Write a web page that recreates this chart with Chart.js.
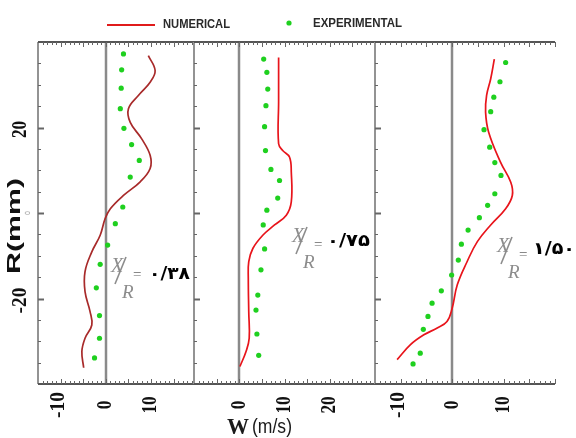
<!DOCTYPE html>
<html>
<head>
<meta charset="utf-8">
<script src="https://cdn.jsdelivr.net/npm/chart.js@4.4.0/dist/chart.umd.min.js"></script>
<style>
  html, body { margin: 0; padding: 0; background: #fff; }
  #wrap { position: relative; width: 576px; height: 438px; overflow: hidden; }
  #wrap canvas { position: absolute; left: 0; top: 0; }
</style>
</head>
<body>
<div id="wrap">
  <canvas id="p1" width="576" height="438"></canvas>
  <canvas id="p2" width="576" height="438"></canvas>
  <canvas id="p3" width="576" height="438"></canvas>
</div>
<script>
// X/R = 0.38
const numR1 = [36.8, 33.3, 30.6, 27.5, 24.4, 21.2, 17.4, 13.5, 10.4, 7.3, 4.1, 1.0, -1.3, -5.2, -9.1, -13.7, -18.4, -23.0, -26.2, -29.3, -32.4, -36.2];
const numW1 = [9.4, 10.9, 9.8, 7.2, 5.0, 5.4, 7.9, 9.8, 9.8, 7.6, 3.9, 1.0, -0.15, -1.25, -3.1, -4.6, -4.6, -3.5, -3.1, -4.6, -5.3, -4.9];
const expR1 = [37.2, 33.5, 29.2, 24.4, 19.8, 16.0, 12.3, 8.4, 1.4, -2.5, -7.5, -12.0, -17.5, -24.0, -29.3, -33.9];
const expW1 = [3.9, 3.5, 3.4, 3.2, 4.0, 5.7, 7.4, 5.4, 3.75, 2.1, 0.4, -1.25, -2.1, -1.4, -1.4, -2.5];

// X/R = 0.75
const numR2 = [36.4, 26.0, 16.2, 14.6, 13.1, 9.6, 2.6, -0.5, -2.8, -5.2, -8.3, -11.4, -15.3, -23.1, -29.3, -32.4, -35.9];
const numW2 = [8.7, 8.7, 8.7, 9.6, 11.1, 11.5, 11.5, 10.4, 7.8, 5.2, 3.0, 2.1, 2.0, 2.1, 2.2, 1.5, 0.15];
const expR2 = [36.0, 32.9, 29.0, 25.1, 20.2, 14.6, 10.2, 7.6, 3.5, 0.65, -2.8, -8.4, -13.3, -19.2, -22.7, -28.3, -33.3];
const expW2 = [5.4, 6.1, 6.3, 5.9, 5.6, 5.8, 7.0, 8.9, 8.5, 6.1, 5.3, 5.6, 4.8, 4.1, 3.7, 3.9, 4.3];

// X/R = 1.50
const numR3 = [36.0, 31.4, 27.5, 23.6, 18.9, 11.9, 7.2, 4.1, 1.0, -2.8, -6.7, -11.4, -16.8, -22.3, -25.4, -26.9, -28.5, -30.8, -34.3];
const numW3 = [8.2, 7.5, 6.7, 6.5, 7.1, 9.4, 11.4, 11.7, 10.4, 7.5, 4.9, 2.9, 1.0, 0, -1.0, -2.9, -5.5, -8.1, -10.7];
const expR3 = [35.2, 30.7, 27.1, 23.7, 19.5, 15.4, 11.8, 8.8, 4.5, 1.8, -1.1, -4.0, -7.3, -11.0, -14.5, -18.2, -21.1, -24.2, -27.2, -32.8, -35.3];
const expW3 = [10.4, 9.3, 8.1, 7.5, 6.2, 7.3, 8.3, 9.5, 8.3, 6.9, 5.3, 3.1, 1.8, 1.2, -0.1, -2.1, -3.9, -4.7, -5.6, -6.2, -7.6];

const xRange1 = [-15, 19.5];
const xRange2 = [-10, 30];
const xRange3 = [-15, 20];
const xLabels1 = [-10, 0, 10];
const xLabels2 = [0, 10, 20];
const xLabels3 = [-10, 0, 10];
const yLabels = [20, -20];
const stationText = ["۰/۳۸", "۰/۷۵", "۱/۵۰"];

function toPoints(rs, ws) {
    return rs.map((r, i) => ({ x: ws[i], y: r }));
}

function line(ctx, x1, y1, x2, y2) {
    ctx.beginPath();
    ctx.moveTo(x1, y1);
    ctx.lineTo(x2, y2);
    ctx.stroke();
}

// text rotated to read bottom-to-top, centred on (cx, cy)
function rotText(ctx, text, cx, cy, font, len) {
    ctx.save();
    ctx.font = font;
    const w = ctx.measureText(text).width;
    ctx.translate(cx, cy);
    ctx.rotate(-Math.PI / 2);
    ctx.scale(len / w, 1);
    ctx.textAlign = "center";
    ctx.textBaseline = "middle";
    ctx.fillText(text, 0, 0);
    ctx.restore();
}

// horizontal text squeezed to a given width, left edge at x
function fitText(ctx, text, x, y, font, len) {
    ctx.save();
    ctx.font = font;
    const w = ctx.measureText(text).width;
    ctx.translate(x, y);
    ctx.scale(len / w, 1);
    ctx.textAlign = "left";
    ctx.textBaseline = "middle";
    ctx.fillText(text, 0, 0);
    ctx.restore();
}

function drawStation(ctx, s) {
    ctx.save();
    ctx.fillStyle = "#8c8c8c";
    ctx.strokeStyle = "#8c8c8c";
    ctx.textAlign = "left";
    ctx.textBaseline = "alphabetic";
    ctx.font = 'italic 20px "Liberation Serif"';
    ctx.fillText("X", s.x - 1, s.y + 14);
    ctx.lineWidth = 1.6;
    line(ctx, s.x + 3, s.y + 26, s.x + 14, s.y - 1);
    ctx.font = 'italic 19px "Liberation Serif"';
    ctx.fillText("R", s.x + 10, s.y + 40);
    ctx.fillStyle = "#666";
    ctx.textBaseline = "middle";
    ctx.font = '15px "Liberation Serif"';
    ctx.fillText("=", s.x + 21, s.y + 17);
    ctx.fillStyle = "#000";
    fitText(ctx, s.text, s.x + s.dx, s.y + s.dy, 'bold 17px "DejaVu Sans"', s.w);
    ctx.restore();
}

const panelFrame = {
    id: "panelFrame",
    beforeDatasetsDraw(chart, args, opts) {
        const { ctx, chartArea: a, scales: { x } } = chart;
        const x0 = Math.round(x.getPixelForValue(0));
        ctx.save();
        ctx.strokeStyle = "#8a8a8a";
        ctx.lineWidth = 2.5;
        line(ctx, x0, a.top, x0, a.bottom);
        ctx.restore();
    },
    afterDatasetsDraw(chart, args, opts) {
        const { ctx, chartArea: a, scales: { x, y } } = chart;
        ctx.save();
        ctx.strokeStyle = "#939393";
        ctx.lineWidth = 2;
        line(ctx, a.left, a.top, a.left, a.bottom);
        ctx.strokeStyle = "#555";
        line(ctx, a.left, a.top, a.right, a.top);
        line(ctx, a.left, a.bottom, a.right, a.bottom);

        // inward ticks, top and bottom
        ctx.lineWidth = 1;
        ctx.strokeStyle = "#666";
        for (let v = Math.ceil(x.min) + 1; v <= x.max; v++) {
            const px = Math.round(x.getPixelForValue(v)) + 0.5;
            const len = v % 5 === 0 ? 5 : 3;
            line(ctx, px, a.bottom, px, a.bottom - len);
            line(ctx, px, a.top, px, a.top + len);
        }
        // inward ticks on the left edge
        for (let v = -35; v <= 35; v += 5) {
            const py = Math.round(y.getPixelForValue(v)) + 0.5;
            ctx.lineWidth = v % 20 === 0 ? 2 : 1;
            line(ctx, a.left, py, a.left + (v % 20 === 0 ? 6 : 3), py);
        }

        ctx.fillStyle = "#111";
        opts.labels.forEach(v => {
            const t = String(v);
            rotText(ctx, t, x.getPixelForValue(v) - (v < 0 ? 2 : 0), 405, 'bold 21px "Liberation Serif"', t.length * 8.6);
        });

        drawStation(ctx, opts.station);
        ctx.restore();
    }
};

const decor = {
    id: "decor",
    afterDraw(chart) {
        const { ctx, scales: { y } } = chart;
        ctx.save();
        ctx.fillStyle = "#111";
        yLabels.forEach(v => {
            const t = String(v);
            rotText(ctx, t, 21, y.getPixelForValue(v) + 2, 'bold 21px "Liberation Serif"', t.length * 8.6);
        });
        ctx.fillStyle = "#9a9a9a";
        rotText(ctx, "0", 28, y.getPixelForValue(0), '7px "DejaVu Sans"', 4);
        ctx.fillStyle = "#111";
        rotText(ctx, "R(mm)", 15, 226, 'bold 19px "Liberation Sans"', 96);

        // legend
        ctx.strokeStyle = "#e01b1b";
        ctx.lineWidth = 2;
        line(ctx, 107, 25, 155, 25);
        ctx.fillStyle = "#2a2a2a";
        fitText(ctx, "NUMERICAL", 163, 25, 'bold 12px "Liberation Sans"', 67);
        ctx.fillStyle = "#1fd01f";
        ctx.beginPath();
        ctx.arc(289, 23, 2.6, 0, Math.PI * 2);
        ctx.fill();
        ctx.fillStyle = "#2a2a2a";
        fitText(ctx, "EXPERIMENTAL", 313, 24, 'bold 12px "Liberation Sans"', 89);

        // axis title
        ctx.fillStyle = "#1a1a1a";
        fitText(ctx, "W", 227, 428, 'bold 24px "Liberation Serif"', 22);
        fitText(ctx, "(m/s)", 252, 427, '20px "Liberation Sans"', 40);
        ctx.restore();
    }
};

function makePanel(id, num, exp, xr, lineColor, frame, extra) {
    return new Chart(document.getElementById(id), {
        type: "scatter",
        data: {
            datasets: [
                {
                    label: "NUMERICAL",
                    data: num,
                    showLine: true,
                    borderColor: lineColor,
                    borderWidth: 1.7,
                    pointRadius: 0,
                    tension: 0.4,
                    fill: false
                },
                {
                    label: "EXPERIMENTAL",
                    data: exp,
                    pointRadius: 2.6,
                    pointStyle: "circle",
                    backgroundColor: "#1fd01f",
                    borderWidth: 0
                }
            ]
        },
        options: {
            responsive: false,
            animation: false,
            events: [],
            layout: { padding: frame.pad },
            scales: {
                x: { type: "linear", display: false, min: xr[0], max: xr[1] },
                y: { type: "linear", display: false, min: -40, max: 40 }
            },
            plugins: {
                legend: { display: false },
                tooltip: { enabled: false },
                panelFrame: frame
            }
        },
        plugins: extra ? [panelFrame, extra] : [panelFrame]
    });
}

makePanel("p1", toPoints(numR1, numW1), toPoints(expR1, expW1), xRange1, "#a82a2a", {
    pad: { left: 38, right: 382, top: 42, bottom: 54 },
    labels: xLabels1,
    station: { x: 112, y: 258, dx: 37, dy: 17, w: 41, text: stationText[0] }
}, decor);

makePanel("p2", toPoints(numR2, numW2), toPoints(expR2, expW2), xRange2, "#e8141b", {
    pad: { left: 194, right: 201, top: 42, bottom: 54 },
    labels: xLabels2,
    station: { x: 293, y: 228, dx: 34, dy: 14, w: 43, text: stationText[1] }
});

makePanel("p3", toPoints(numR3, numW3), toPoints(expR3, expW3), xRange3, "#e8141b", {
    pad: { left: 375, right: 21, top: 42, bottom: 54 },
    labels: xLabels3,
    station: { x: 498, y: 238, dx: 35, dy: 12, w: 42, text: stationText[2] }
});
</script>
</body>
</html>
